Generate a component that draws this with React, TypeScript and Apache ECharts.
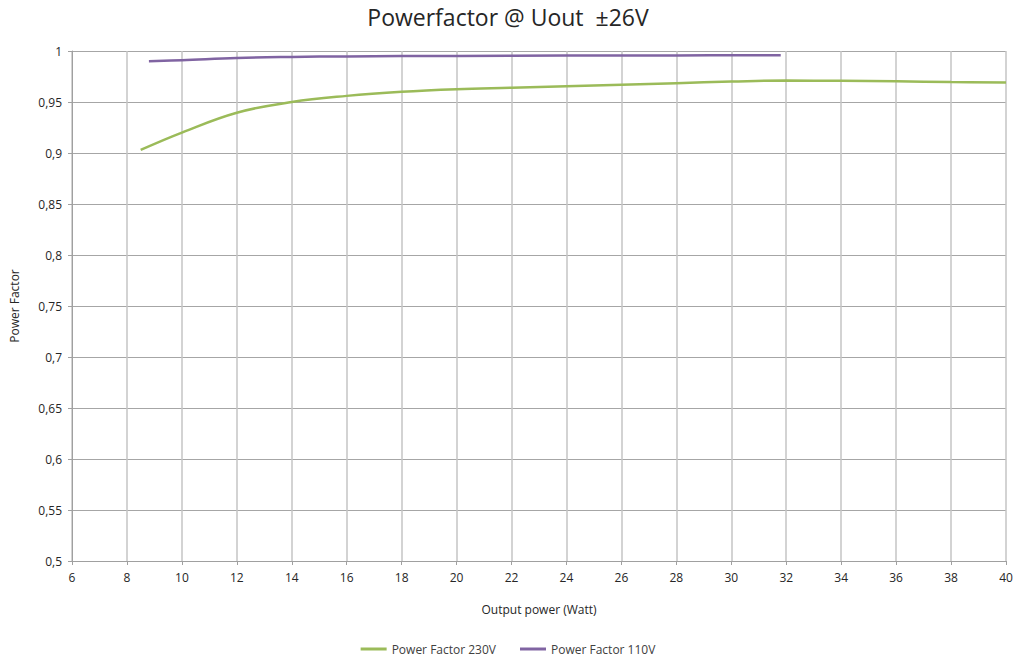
import React, { useEffect, useRef } from "react";
import * as echarts from "echarts";

const xTicks = { min: 6, max: 40, interval: 2 };
const green230X = [8.5, 10, 12, 14, 16, 18, 20, 22, 24, 26, 28, 30, 32, 34, 36, 38, 40];
const green230Y = [0.903, 0.920, 0.9395, 0.950, 0.956, 0.960, 0.9625, 0.964, 0.9655, 0.967, 0.9685, 0.970, 0.971, 0.9708, 0.9703, 0.9695, 0.969];
const purple110X = [8.8, 10, 12, 14, 16, 20, 24, 28, 31.8];
const purple110Y = [0.990, 0.991, 0.9932, 0.9942, 0.9947, 0.9952, 0.9955, 0.9957, 0.9958];
const seriesNames = ["Power Factor 230V", "Power Factor 110V"];

const FONT = "'Open Sans', 'Noto Sans', sans-serif";

export default function App() {
  const ref = useRef<HTMLDivElement>(null);
  useEffect(() => {
    if (!ref.current) return;
    const chart = echarts.init(ref.current, null, { renderer: "svg" });
    chart.setOption({
      animation: false,
      backgroundColor: "#ffffff",
      textStyle: { fontFamily: FONT },
      title: {
        text: "Powerfactor @ Uout  \u00b126V",
        left: "center",
        top: 0,
        textStyle: { fontFamily: FONT, fontSize: 23, fontWeight: "normal", color: "#262626" },
      },
      legend: {
        bottom: 0,
        left: "center",
        itemWidth: 26,
        itemHeight: 3,
        itemGap: 24,
        icon: "rect",
        textStyle: { fontFamily: FONT, fontSize: 12, color: "#404040" },
        data: seriesNames,
      },
      grid: { left: 72, right: 10, top: 51, bottom: 99, containLabel: false, outerBoundsMode: "none" },
      xAxis: {
        type: "value",
        min: xTicks.min,
        max: xTicks.max,
        interval: xTicks.interval,
        name: "Output power (Watt)",
        nameLocation: "middle",
        nameGap: 42,
        nameTextStyle: { fontFamily: FONT, fontSize: 12, color: "#262626" },
        axisLine: { show: true, lineStyle: { color: "#a0a0a0", width: 1 } },
        axisTick: { show: true, length: 4, lineStyle: { color: "#a0a0a0" } },
        axisLabel: { fontFamily: FONT, fontSize: 12, color: "#262626", margin: 10 },
        splitLine: { show: true, lineStyle: { color: "#c4c4c4", width: 1.5 } },
      },
      yAxis: {
        type: "value",
        min: 0.5,
        max: 1,
        interval: 0.05,
        name: "Power Factor",
        nameLocation: "middle",
        nameGap: 52,
        nameTextStyle: { fontFamily: FONT, fontSize: 12, color: "#262626" },
        axisLine: { show: true, lineStyle: { color: "#a0a0a0", width: 1 } },
        axisTick: { show: true, length: 4, lineStyle: { color: "#a0a0a0" } },
        axisLabel: {
          fontFamily: FONT,
          fontSize: 12,
          color: "#262626",
          margin: 10,
          formatter: (v: number) => String(Math.round(v * 100) / 100).replace(".", ","),
        },
        splitLine: { show: true, lineStyle: { color: "#a6a6a6", width: 1 } },
      },
      series: [
        {
          name: seriesNames[0],
          type: "line",
          smooth: 0.4,
          showSymbol: false,
          symbol: "none",
          lineStyle: { color: "#9bbb59", width: 2.5 },
          itemStyle: { color: "#9bbb59" },
          data: green230X.map((x, i) => [x, green230Y[i]]),
        },
        {
          name: seriesNames[1],
          type: "line",
          smooth: 0.4,
          showSymbol: false,
          symbol: "none",
          lineStyle: { color: "#8064a2", width: 2.5 },
          itemStyle: { color: "#8064a2" },
          data: purple110X.map((x, i) => [x, purple110Y[i]]),
        },
      ],
    });
    return () => chart.dispose();
  }, []);
  return (
    <div
      ref={ref}
      style={{ position: "fixed", left: 0, top: 0, width: 1016, height: 660 }}
    />
  );
}
